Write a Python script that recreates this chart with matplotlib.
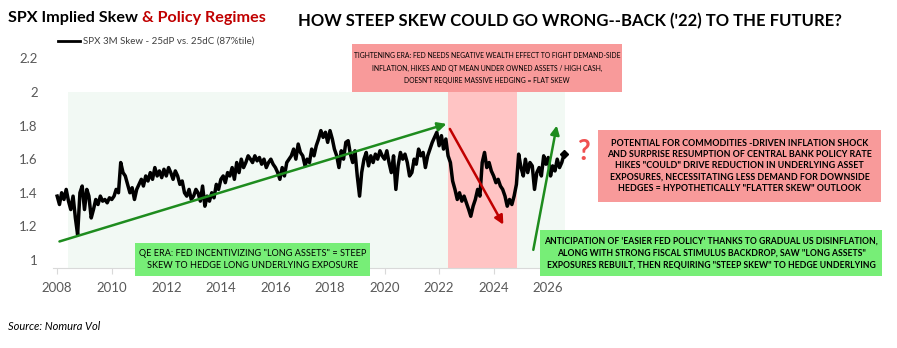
import matplotlib
matplotlib.use("Agg")
import matplotlib.pyplot as plt
import matplotlib.dates as mdates
from matplotlib.patches import Rectangle
import pandas as pd

plt.rcParams['font.family'] = ['Lato', 'DejaVu Sans']

# monthly SPX 3M skew (25dP vs 25dC)
skew_2008 = [1.38, 1.33, 1.40, 1.36, 1.42, 1.35, 1.30, 1.38, 1.25, 1.15, 1.40, 1.44]
skew_2009 = [1.30, 1.42, 1.38, 1.25, 1.30, 1.36, 1.33, 1.38, 1.35, 1.36, 1.34, 1.37]
skew_2010 = [1.36, 1.38, 1.42, 1.40, 1.58, 1.52, 1.50, 1.45, 1.40, 1.43, 1.36, 1.42]
skew_2011 = [1.45, 1.48, 1.44, 1.50, 1.47, 1.52, 1.48, 1.55, 1.50, 1.53, 1.49, 1.54]
skew_2012 = [1.50, 1.55, 1.52, 1.48, 1.53, 1.50, 1.45, 1.47, 1.40, 1.38, 1.42, 1.36]
skew_2013 = [1.38, 1.42, 1.40, 1.35, 1.44, 1.32, 1.38, 1.35, 1.40, 1.37, 1.45, 1.42]
skew_2014 = [1.48, 1.50, 1.46, 1.52, 1.50, 1.55, 1.48, 1.58, 1.52, 1.60, 1.55, 1.58]
skew_2015 = [1.62, 1.60, 1.58, 1.62, 1.59, 1.61, 1.57, 1.60, 1.55, 1.58, 1.60, 1.57]
skew_2016 = [1.55, 1.52, 1.48, 1.55, 1.50, 1.58, 1.60, 1.62, 1.66, 1.60, 1.69, 1.64]
skew_2017 = [1.62, 1.56, 1.60, 1.58, 1.66, 1.62, 1.68, 1.72, 1.77, 1.73, 1.76, 1.70]
skew_2018 = [1.77, 1.72, 1.66, 1.62, 1.55, 1.65, 1.60, 1.70, 1.71, 1.63, 1.58, 1.65]
skew_2019 = [1.50, 1.38, 1.52, 1.60, 1.64, 1.56, 1.62, 1.58, 1.63, 1.60, 1.65, 1.62]
skew_2020 = [1.60, 1.65, 1.58, 1.52, 1.62, 1.42, 1.56, 1.64, 1.60, 1.63, 1.58, 1.50]
skew_2021 = [1.52, 1.60, 1.57, 1.66, 1.62, 1.64, 1.55, 1.62, 1.66, 1.70, 1.73, 1.76]
skew_2022 = [1.68, 1.74, 1.66, 1.72, 1.62, 1.58, 1.47, 1.42, 1.36, 1.40, 1.35, 1.38]
skew_2023 = [1.34, 1.30, 1.26, 1.32, 1.36, 1.42, 1.38, 1.58, 1.64, 1.55, 1.58, 1.53]
skew_2024 = [1.50, 1.46, 1.48, 1.44, 1.42, 1.38, 1.32, 1.36, 1.33, 1.38, 1.45, 1.63]
skew_2025 = [1.55, 1.50, 1.60, 1.52, 1.58, 1.56, 1.42, 1.52, 1.55, 1.50, 1.62, 1.57]
skew_2026 = [1.61, 1.50, 1.56, 1.53, 1.60, 1.55, 1.58, 1.63]

skew = (skew_2008 + skew_2009 + skew_2010 + skew_2011 + skew_2012 + skew_2013
        + skew_2014 + skew_2015 + skew_2016 + skew_2017 + skew_2018 + skew_2019
        + skew_2020 + skew_2021 + skew_2022 + skew_2023 + skew_2024 + skew_2025
        + skew_2026)
dates = pd.date_range("2008-01-01", periods=len(skew), freq="MS")

# regime shading (start, end, top)
qe_era = ("2008-05-20", "2026-08-10", 2.0)
tight_era = ("2022-05-01", "2024-11-05", 2.0)

# trend arrows: (start date, start value, end date, end value, colour)
arrows = [
    ("2008-02-01", 1.11, "2022-04-10", 1.81, "#1e8c1e"),
    ("2022-05-25", 1.78, "2024-05-10", 1.21, "#c00000"),
    ("2025-06-15", 1.06, "2026-04-25", 1.80, "#1e8c1e"),
]

yticks = [1, 1.2, 1.4, 1.6, 1.8, 2, 2.2]
ytick_labels = ["1", "1.2", "1.4", "1.6", "1.8", "2", "2.2"]

W, H = 897, 348
fig = plt.figure(figsize=(W / 100, H / 100), dpi=100)
ax = fig.add_axes([52.9 / W, (H - 268) / H, 517 / W, 218 / H])

ymin, ymax = 0.952, 2.25
t = pd.to_datetime
ax.fill_between([t(qe_era[0]), t(qe_era[1])], ymin - 0.05, qe_era[2],
                color="#f2f9f4", lw=0, zorder=0)
ax.fill_between([t(tight_era[0]), t(tight_era[1])], ymin - 0.05, tight_era[2],
                color="#ffc4c4", lw=0, zorder=0.5)

ax.plot(dates, skew, color="black", lw=2.5, zorder=3)
ax.plot(dates[-1:], skew[-1:], marker="D", color="black", ms=4, zorder=4)

for d0, v0, d1, v1, c in arrows:
    ax.annotate("", xy=(t(d1), v1), xytext=(t(d0), v0),
                arrowprops=dict(arrowstyle="-|>", color=c, lw=1.8,
                                mutation_scale=13, shrinkA=0, shrinkB=0),
                zorder=5)

ax.set_xlim(t("2007-11-05"), t("2026-10-18"))
ax.set_ylim(ymin, ymax)
ax.xaxis.set_major_locator(mdates.YearLocator(2))
ax.xaxis.set_major_formatter(mdates.DateFormatter("%Y"))
ax.set_yticks(yticks)
ax.set_yticklabels(ytick_labels)
for s in ["top", "right", "left"]:
    ax.spines[s].set_visible(False)
ax.spines["bottom"].set_color("#d9d9d9")
ax.tick_params(axis="y", length=0, labelsize=9.5, labelcolor="#595959", pad=11)
ax.tick_params(axis="x", length=4, color="#d9d9d9", labelsize=9.5,
               labelcolor="#595959", pad=6)
ax.patch.set_alpha(0)

# titles
tt = fig.text(8 / W, 1 - 18 / H, "SPX Implied Skew ", fontsize=11.6,
              fontweight="bold", va="center", ha="left")
fig.canvas.draw()
bb = tt.get_window_extent()
fig.text(bb.x1 / W, 1 - 18 / H, "& Policy Regimes", fontsize=11.6,
         fontweight="bold", color="#c00000", va="center", ha="left")
fig.text(570 / W, 1 - 21 / H,
         "HOW STEEP SKEW COULD GO WRONG--BACK ('22) TO THE FUTURE?",
         fontsize=12, fontweight="bold", ha="center", va="center")

# legend
fig.add_artist(plt.Line2D([58 / W, 80 / W], [1 - 41 / H, 1 - 41 / H],
                          color="black", lw=2))
fig.text(83 / W, 1 - 41 / H, "SPX 3M Skew - 25dP vs. 25dC (87%tile)",
         fontsize=7.0, color="#404040", va="center", ha="left")

fig.text(8 / W, 1 - 326 / H, "Source: Nomura Vol", fontsize=8,
         style="italic", va="center", ha="left")


def box(x0, y0, x1, y1, color, text, size, spacing, weight="normal"):
    fig.add_artist(Rectangle((x0 / W, 1 - y1 / H), (x1 - x0) / W,
                             (y1 - y0) / H, transform=fig.transFigure,
                             facecolor=color, edgecolor="none", zorder=6))
    fig.text((x0 + x1) / 2 / W, 1 - (y0 + y1) / 2 / H, text, fontsize=size,
             fontweight=weight, ha="center", va="center", linespacing=spacing,
             zorder=7)


box(352, 44, 622, 92, "#f89a9a",
    "TIGHTENING ERA: FED NEEDS NEGATIVE WEALTH EFFECT TO FIGHT DEMAND-SIDE\n"
    "INFLATION, HIKES AND QT MEAN UNDER OWNED ASSETS / HIGH CASH,\n"
    "DOESN'T REQUIRE MASSIVE HEDGING = FLAT SKEW", 4.9, 1.95)
box(598, 130, 881, 202, "#f89a9a",
    "POTENTIAL FOR COMMODITIES -DRIVEN INFLATION SHOCK\n"
    "AND SURPRISE RESUMPTION OF CENTRAL BANK POLICY RATE\n"
    "HIKES \"COULD\" DRIVE REDUCTION IN UNDERLYING ASSET\n"
    "EXPOSURES, NECESSITATING LESS DEMAND FOR DOWNSIDE\n"
    "HEDGES = HYPOTHETICALLY \"FLATTER SKEW\" OUTLOOK", 6.4, 1.3, "bold")
box(540, 230, 882, 276, "#77ee77",
    "ANTICIPATION OF 'EASIER FED POLICY' THANKS TO GRADUAL US DISINFLATION,\n"
    "ALONG WITH STRONG FISCAL STIMULUS BACKDROP, SAW \"LONG ASSETS\"\n"
    "EXPOSURES REBUILT, THEN REQUIRING \"STEEP SKEW\" TO HEDGE UNDERLYING",
    6.25, 1.45, "bold")
box(135, 243, 370, 276, "#77ee77",
    "QE ERA: FED INCENTIVIZING \"LONG ASSETS\" = STEEP\n"
    "SKEW TO HEDGE LONG UNDERLYING EXPOSURE", 6.6, 1.5)

fig.text(583 / W, 1 - 152 / H, "?", fontsize=20, fontweight="bold",
         color="#f05050", ha="center", va="center")

fig.savefig("out.png", dpi=100)
